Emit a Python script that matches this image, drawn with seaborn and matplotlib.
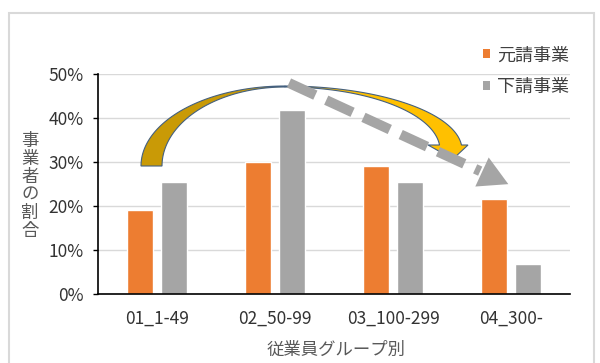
import numpy as np
import pandas as pd
import matplotlib
matplotlib.use("Agg")
import matplotlib.pyplot as plt
import seaborn as sns
from matplotlib.patches import Polygon, Rectangle
from matplotlib.lines import Line2D
from matplotlib.ticker import PercentFormatter

# ---- data ----
categories = ["01_1-49", "02_50-99", "03_100-299", "04_300-"]
series_names = ["元請事業", "下請事業"]
motouke = [0.192, 0.299, 0.291, 0.217]
shitauke = [0.255, 0.419, 0.255, 0.069]
y_ticks = [0.0, 0.1, 0.2, 0.3, 0.4, 0.5]
x_title = "従業員グループ別"
y_title = "事業者の割合"

colors = ["#ED7D31", "#A5A5A5"]

df = pd.DataFrame({
    "group": categories * 2,
    "series": [series_names[0]] * len(categories) + [series_names[1]] * len(categories),
    "value": motouke + shitauke,
})

sns.set_theme(style="white")
plt.rcParams["font.family"] = ["Noto Sans CJK JP", "DejaVu Sans"]

W, H = 600, 363
fig = plt.figure(figsize=(W / 100, H / 100), dpi=100)
ax = fig.add_axes([98 / W, 1 - 294 / H, 472 / W, 220 / H])

sns.barplot(data=df, x="group", y="value", hue="series", order=categories,
            hue_order=series_names, palette=colors, width=0.568, gap=0.21,
            saturation=1, ax=ax, legend=False)

ax.set_xlim(-0.5, 3.5)
ax.set_ylim(0, 0.5)
ax.set_yticks(y_ticks)
ax.yaxis.set_major_formatter(PercentFormatter(1.0, decimals=0))
ax.grid(axis="y", color="#D9D9D9", linewidth=1.0)
ax.set_axisbelow(True)
for s in ["top", "right"]:
    ax.spines[s].set_visible(False)
for s in ["left", "bottom"]:
    ax.spines[s].set_color("black")
    ax.spines[s].set_linewidth(1.2)
ax.tick_params(axis="y", left=True, length=3.5, width=1.0, color="black",
               pad=7, labelsize=12.5, labelcolor="#333333")
ax.tick_params(axis="x", bottom=False, length=0, pad=11, labelsize=12.5,
               labelcolor="#333333")

ax.set_xlabel(x_title, fontsize=12.5, color="#595959")
ax.xaxis.set_label_coords((336 - 98) / 472, (294 - 350) / 220)
ax.xaxis.label.set_va("center")
ax.set_ylabel("\n".join(y_title), fontsize=12.5, color="#595959",
              rotation=0, linespacing=1.0)
ax.yaxis.set_label_coords((30 - 98) / 472, (294 - 186) / 220)
ax.yaxis.label.set_va("center")
ax.yaxis.label.set_ha("center")

# legend
handles = [Rectangle((0, 0), 1, 1, facecolor=c, edgecolor="none") for c in colors]
leg = fig.legend(handles, series_names, loc="upper left",
                 bbox_to_anchor=(467 / W, 1 - 30 / H), frameon=False,
                 fontsize=13, handlelength=0.4, handleheight=0.4,
                 handletextpad=0.35, labelspacing=0.75, labelcolor="#404040")

# ---- decorative elements (pixel geometry -> figure fraction) ----
def P(pts):
    pts = np.asarray(pts, dtype=float)
    return np.column_stack([pts[:, 0] / W, 1 - pts[:, 1] / H])

# outer border of chart area
fig.patches.append(Rectangle((9 / W, -0.05), 585 / W, 1.05 - 13 / H,
                             transform=fig.transFigure, fill=False,
                             edgecolor="#D9D9D9", linewidth=1.5))

# curved yellow arrow
px, py = 285, 86
t = np.linspace(np.pi, np.pi / 2, 60)
left_outer = np.column_stack([px + 144 * np.cos(t), 166 - 80 * np.sin(t)])
left_inner = np.column_stack([px + 123 * np.cos(t), 166 - 79 * np.sin(t)])
left_poly = np.vstack([left_outer, left_inner[::-1]])

def ellipse_right(a, b, cy, yend, n=60):
    tend = np.arcsin((cy - yend) / b)
    tt = np.linspace(np.pi / 2, tend, n)
    return np.column_stack([px + a * np.cos(tt), cy - b * np.sin(tt)])

right_outer = ellipse_right(177, 64, 150, 145)
right_inner = ellipse_right(155, 63, 150, 145)
head = np.array([[468, 145], [453, 159], [428, 145]])
right_poly = np.vstack([right_outer, head, right_inner[::-1]])

edge = "#44607F"
fig.patches.append(Polygon(P(right_poly), closed=True, transform=fig.transFigure,
                           facecolor="#FFC000", edgecolor=edge, linewidth=0.8))
fig.patches.append(Polygon(P(left_poly), closed=True, transform=fig.transFigure,
                           facecolor="#C99A06", edgecolor=edge, linewidth=0.8))

# dashed gray arrow
start = np.array([289.0, 83.0])
base_mid = np.array([482.0, 172.0])
d = base_mid - start
u = d / np.linalg.norm(d)
nrm = np.array([-u[1], u[0]])
line = np.vstack([start, base_mid - u * 2])
fig.lines.append(Line2D(*P(line).T, transform=fig.transFigure, color="#A5A5A5",
                        linewidth=7.2, dashes=(2.9, 1.2), solid_capstyle="butt",
                        dash_capstyle="butt"))
tip = base_mid + u * 29
ghead = np.vstack([base_mid + nrm * 16, tip, base_mid - nrm * 16])
fig.patches.append(Polygon(P(ghead), closed=True, transform=fig.transFigure,
                           facecolor="#A5A5A5", edgecolor="none"))

fig.savefig("out.png", dpi=100)
